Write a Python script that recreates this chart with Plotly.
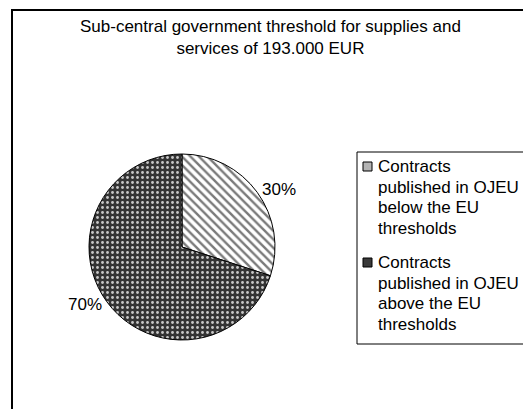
import plotly.graph_objects as go

title_lines = ["Sub-central government threshold for supplies and", "services of 193.000 EUR"]
legend_labels = [
    ["Contracts", "published in OJEU", "below the EU", "thresholds"],
    ["Contracts", "published in OJEU", "above the EU", "thresholds"],
]
labels = [" ".join(l) for l in legend_labels]
values = [30, 70]
colors = ["#ffffff", "#333333"]
patterns = ["\\", "."]
pattern_fg = ["#7a7a7a", "#c8c8c8"]
swatch_colors = ["#b4b4b4", "#3a3a3a"]

W, H = 523, 409
FONT = "Liberation Sans, Arial, sans-serif"
FS = 17

fig = go.Figure(
    go.Pie(
        labels=labels,
        values=values,
        sort=False,
        direction="clockwise",
        rotation=0,
        textinfo="percent",
        texttemplate="%{percent:.0%}",
        textposition="outside",
        textfont=dict(size=FS, color="black", family=FONT),
        marker=dict(
            colors=colors,
            line=dict(color="black", width=1),
            pattern=dict(
                shape=patterns,
                fgcolor=pattern_fg,
                bgcolor=colors,
                size=[6, 5],
                solidity=[0.4, 0.25],
            ),
        ),
        domain=dict(x=[(182 - 93) / W, (182 + 93) / W], y=[1 - 340 / H, 1 - 154 / H]),
        hoverinfo="label+percent",
        showlegend=False,
    )
)

# manual legend (box, swatches, text) placed like the reference
shapes = [
    dict(type="rect", xref="paper", yref="paper",
         x0=12 / W, x1=1.1, y0=-0.1, y1=1 - 10 / H,
         line=dict(color="black", width=2), fillcolor="rgba(0,0,0,0)", layer="below"),
    dict(type="rect", xref="paper", yref="paper",
         x0=357 / W, x1=1.1, y0=1 - 344 / H, y1=1 - 152 / H,
         line=dict(color="black", width=1), fillcolor="white", layer="below"),
]
annotations = [
    dict(text="<br>".join(title_lines), xref="paper", yref="paper",
         x=270 / W, y=1 - 15 / H, xanchor="center", yanchor="top",
         showarrow=False, font=dict(size=FS, color="black", family=FONT), align="center"),
]
item_tops = [155, 251]
LINE = 20.5
for i, lines in enumerate(legend_labels):
    top = item_tops[i]
    shapes.append(dict(type="rect", xref="paper", yref="paper",
                       x0=363 / W, x1=372 / W,
                       y0=1 - (top + 16) / H, y1=1 - (top + 7) / H,
                       line=dict(color="black", width=1), fillcolor=swatch_colors[i]))
    for j, line in enumerate(lines):
        annotations.append(dict(text=line, xref="paper", yref="paper",
                                x=376 / W, y=1 - (top + j * LINE) / H,
                                xanchor="left", yanchor="top",
                                showarrow=False, align="left",
                                font=dict(size=FS, color="black", family=FONT)))

fig.update_layout(
    width=W,
    height=H,
    margin=dict(l=0, r=0, t=0, b=0),
    paper_bgcolor="white",
    plot_bgcolor="white",
    font=dict(family=FONT, size=FS, color="black"),
    showlegend=False,
    shapes=shapes,
    annotations=annotations,
)

fig.write_html(
    "out.html",
    config={"displayModeBar": False},
    post_script="document.body.style.margin='0';document.body.style.overflow='hidden';",
)
